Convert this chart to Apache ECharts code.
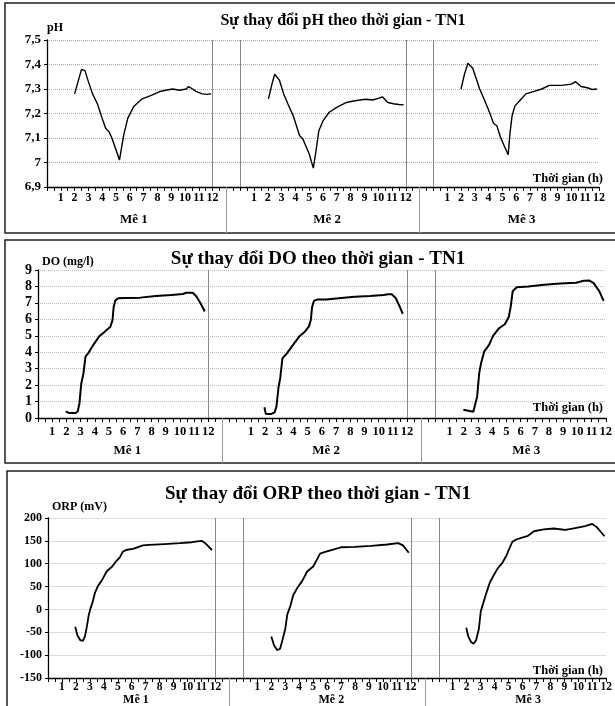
<!DOCTYPE html>
<html>
<head>
<meta charset="utf-8">
<script src="https://cdn.jsdelivr.net/npm/echarts@6/dist/echarts.min.js"></script>
<style>html,body{margin:0;padding:0;background:#fff;}#chart{width:615px;height:706px;}</style>
</head>
<body>
<div id="chart"></div>
<script>
// tick labels / categories
var hourLabels = ['1','2','3','4','5','6','7','8','9','10','11','12'];
var batchNames = ['Mê 1', 'Mê 2', 'Mê 3'];
var batchOffsets = [0, 14, 28]; // each batch (mẻ) sits on its own stretch of the shared time axis

// [hour, value]
var phMe1 = [[2.0,7.28],[2.25,7.33],[2.5,7.38],[2.75,7.375],[3.0,7.33],[3.3,7.28],[3.65,7.24],[4.0,7.18],[4.25,7.14],[4.5,7.125],[4.7,7.1],[4.95,7.06],[5.25,7.01],[5.4,7.06],[5.55,7.11],[5.85,7.18],[6.3,7.23],[6.9,7.26],[7.6,7.275],[8.2,7.29],[8.6,7.295],[9.1,7.3],[9.6,7.295],[10.1,7.3],[10.25,7.31],[10.4,7.305],[10.8,7.29],[11.25,7.28],[11.6,7.278],[11.9,7.28]];
var phMe2 = [[2.05,7.26],[2.3,7.32],[2.5,7.36],[2.85,7.335],[3.15,7.28],[3.45,7.24],[3.85,7.19],[4.3,7.11],[4.55,7.095],[5.0,7.035],[5.3,6.977],[5.5,7.05],[5.7,7.13],[6.0,7.17],[6.45,7.205],[7.0,7.225],[7.7,7.245],[8.3,7.252],[9.1,7.258],[9.6,7.255],[10.0,7.262],[10.3,7.268],[10.7,7.245],[11.1,7.24],[11.5,7.237],[11.85,7.235]];
var phMe3 = [[2.0,7.30],[2.25,7.36],[2.5,7.405],[2.85,7.385],[3.15,7.335],[3.35,7.30],[3.7,7.255],[4.1,7.20],[4.35,7.16],[4.6,7.15],[4.85,7.105],[5.15,7.065],[5.42,7.032],[5.55,7.12],[5.7,7.19],[5.9,7.23],[6.3,7.255],[6.7,7.28],[7.3,7.29],[7.85,7.30],[8.4,7.315],[9.3,7.315],[10.0,7.32],[10.3,7.33],[10.7,7.31],[11.15,7.305],[11.5,7.298],[11.85,7.30]];

var doMe1 = [[1.95,0.4],[2.2,0.3],[2.65,0.3],[2.8,0.4],[2.92,0.9],[3.05,2.1],[3.2,2.7],[3.35,3.75],[3.55,3.95],[3.9,4.45],[4.3,4.95],[4.7,5.25],[5.1,5.55],[5.25,5.95],[5.33,6.75],[5.45,7.15],[5.65,7.28],[6.1,7.3],[7.2,7.32],[8.3,7.42],[9.4,7.48],[10.2,7.54],[10.45,7.62],[10.9,7.62],[11.15,7.4],[11.45,6.98],[11.75,6.48]];
var doMe2 = [[1.95,0.65],[2.05,0.25],[2.45,0.25],[2.67,0.34],[2.8,0.7],[2.95,1.9],[3.07,2.45],[3.22,3.62],[3.55,3.95],[3.97,4.45],[4.4,4.95],[4.8,5.25],[5.08,5.55],[5.22,5.95],[5.31,6.75],[5.44,7.12],[5.65,7.2],[6.3,7.2],[7.2,7.28],[8.3,7.37],[9.4,7.42],[10.35,7.48],[10.65,7.53],[10.92,7.52],[11.2,7.3],[11.47,6.8],[11.7,6.33]];
var doMe3 = [[1.97,0.5],[2.1,0.38],[2.67,0.38],[2.81,0.5],[2.94,1.3],[3.08,2.7],[3.22,3.35],[3.44,4.05],[3.78,4.45],[4.06,5.0],[4.47,5.45],[4.89,5.7],[5.17,6.15],[5.31,6.8],[5.44,7.7],[5.72,7.95],[6.55,8.0],[7.65,8.1],[8.8,8.18],[9.9,8.23],[10.45,8.35],[10.85,8.36],[11.15,8.2],[11.55,7.7],[11.85,7.12]];

var orpMe1 = [[1.95,-38],[2.1,-56],[2.3,-67],[2.5,-69],[2.65,-59],[2.8,-35],[2.92,-12],[3.06,4],[3.2,16],[3.35,35],[3.57,51],[3.85,63],[4.2,83],[4.6,94],[4.87,105],[5.15,114],[5.35,126],[5.6,130],[6.15,133],[6.8,140],[7.25,141],[8.35,143],[9.45,145],[10.3,147],[11.0,150],[11.3,144],[11.75,130]];
var orpMe2 = [[2.0,-59],[2.2,-79],[2.43,-89],[2.63,-86],[2.8,-67],[3.0,-43],[3.14,-12],[3.37,8],[3.57,31],[3.86,47],[4.23,63],[4.57,83],[5.0,94],[5.29,110],[5.49,122],[5.86,126],[6.43,131],[7.0,136],[8.0,137],[9.15,139],[10.3,142],[11.1,145],[11.43,140],[11.85,124]];
var orpMe3 = [[1.97,-40],[2.11,-59],[2.31,-71],[2.5,-75],[2.68,-67],[2.87,-43],[3.01,-4],[3.21,16],[3.44,39],[3.66,59],[3.94,75],[4.23,90],[4.56,102],[4.85,118],[5.07,134],[5.27,148],[5.55,153],[5.97,157],[6.39,161],[6.82,171],[7.52,175],[8.23,177],[9.07,174],[9.77,178],[10.48,182],[11.0,187],[11.32,180],[11.88,160]];

var serif = "'Liberation Serif', 'Times New Roman', serif";

function shift(data, k) {
  return data.map(function (p) { return [p[0] + batchOffsets[k], p[1]]; });
}
function hourLabel(v) {
  for (var k = batchOffsets.length - 1; k >= 0; k--) {
    var h = v - batchOffsets[k];
    if (h >= 0 && h <= 12) {
      if (h >= 1 && Math.abs(h - Math.round(h)) < 1e-6) return hourLabels[Math.round(h) - 1];
      return '';
    }
  }
  return '';
}

var panels = [
  { title: 'Sự thay đổi pH theo thời gian - TN1', titleX: 338, titleY: 8, titleSize: 16,
    name: 'pH', nameGap: 12, nameSize: 12, nameShift: 0,
    grid: { left: 47, top: 40, width: 552, height: 147 },
    min: 6.9, max: 7.5, interval: 0.1, ySize: 13, xSize: 12, xMargin: 5, lineW: 1.4,
    fmt: function (v) { return String(Math.round(v * 10) / 10).replace('.', ','); },
    split: { type: 'dotted', color: '#aaa' },
    series: [phMe1, phMe2, phMe3], walls: [12, 14, 26, 28], sepLen: 46, meMargin: 26, meSize: 13,
    timeTop: 167, box: [5, 3, 640, 230] },
  { title: 'Sự thay đổi DO theo thời gian - TN1', titleX: 313, titleY: 245, titleSize: 19,
    name: 'DO (mg/l)', nameGap: 8, nameSize: 12, nameShift: 4,
    grid: { left: 38, top: 270, width: 569, height: 148 },
    min: 0, max: 9, interval: 1, ySize: 14, xSize: 12.5, xMargin: 7, lineW: 2,
    fmt: null,
    split: { type: 'dotted', color: '#bbb' },
    series: [doMe1, doMe2, doMe3], walls: [12, 26, 28], sepLen: 45, meMargin: 26, meSize: 13,
    timeTop: 396, box: [5, 240, 640, 223] },
  { title: 'Sự thay đổi ORP theo thời gian - TN1', titleX: 313, titleY: 480, titleSize: 19,
    name: 'ORP (mV)', nameGap: 11, nameSize: 12, nameShift: 4,
    grid: { left: 48, top: 518, width: 559, height: 161 },
    min: -150, max: 200, interval: 50, ySize: 12, xSize: 11.5, xMargin: 3, lineW: 1.8,
    fmt: null,
    split: { type: 'solid', color: '#ddd' },
    series: [orpMe1, orpMe2, orpMe3], walls: [12, 14, 26, 28], sepLen: 30, meMargin: 16, meSize: 12,
    timeTop: 659, box: [7, 471, 640, 260] }
];

var option = {
  animation: false,
  backgroundColor: '#fff',
  title: [], grid: [], xAxis: [], yAxis: [], series: [], graphic: []
};

panels.forEach(function (p, i) {
  option.graphic.push({
    type: 'rect', silent: true, z: 0,
    shape: { x: p.box[0], y: p.box[1], width: p.box[2], height: p.box[3] },
    style: { fill: 'none', stroke: '#222', lineWidth: 1.5 }
  });
  option.title.push({
    text: p.title, left: p.titleX, top: p.titleY, textAlign: 'center',
    textStyle: { fontFamily: serif, fontWeight: 'bold', fontSize: p.titleSize, color: '#000' }
  });
  option.title.push({
    text: 'Thời gian (h)', right: 7, top: p.timeTop,
    textStyle: { fontFamily: serif, fontWeight: 'bold', fontSize: 12.5, color: '#000' }
  });
  option.grid.push(p.grid);
  option.xAxis.push({
    type: 'value', gridIndex: i, min: 0, max: 40, interval: 0.5,
    axisLine: { onZero: false, lineStyle: { color: '#000', width: 1.3 } },
    axisTick: { length: 4, lineStyle: { color: '#000' } },
    axisLabel: { formatter: hourLabel, margin: p.xMargin, color: '#000', fontFamily: serif,
      fontWeight: 'bold', fontSize: p.xSize, showMinLabel: true, showMaxLabel: true },
    splitLine: { show: false }
  });
  option.xAxis.push({
    type: 'value', gridIndex: i, min: 0, max: 40, position: 'bottom', offset: 0,
    axisLine: { show: false, onZero: false },
    axisTick: { show: true, customValues: [13, 27], length: p.sepLen, lineStyle: { color: '#999', width: 1 } },
    axisLabel: { customValues: [6.3, 20.3, 34.4], margin: p.meMargin, color: '#000',
      fontFamily: serif, fontWeight: 'bold', fontSize: p.meSize,
      formatter: function (v) { return batchNames[v < 13 ? 0 : (v < 27 ? 1 : 2)]; } },
    splitLine: { show: false }
  });
  option.yAxis.push({
    type: 'value', gridIndex: i, min: p.min, max: p.max, interval: p.interval,
    name: p.name, nameLocation: 'end', nameGap: p.nameGap,
    nameTextStyle: { fontFamily: serif, fontWeight: 'bold', fontSize: p.nameSize, color: '#000',
      align: 'left', verticalAlign: 'middle', padding: [0, 0, 0, p.nameShift] },
    axisLine: { show: true, onZero: false, lineStyle: { color: '#000', width: 1.3 } },
    axisTick: { show: true, length: 3, lineStyle: { color: '#000' } },
    axisLabel: { color: '#000', fontFamily: serif, fontWeight: 'bold', fontSize: p.ySize, margin: 6,
      formatter: p.fmt || undefined },
    splitLine: { show: true, lineStyle: { type: p.split.type, color: p.split.color, width: 1 } }
  });
  p.series.forEach(function (d, k) {
    var s = {
      type: 'line', xAxisIndex: i * 2, yAxisIndex: i, data: shift(d, k),
      showSymbol: false, symbol: 'none', smooth: false,
      lineStyle: { color: '#000', width: p.lineW }
    };
    if (k === 0) {
      s.markLine = {
        silent: true, symbol: 'none', label: { show: false },
        lineStyle: { color: '#888', width: 1, type: 'solid' },
        data: p.walls.map(function (w) { return { xAxis: w }; })
      };
    }
    option.series.push(s);
  });
});

var chart = echarts.init(document.getElementById('chart'), null, { renderer: 'canvas' });
chart.setOption(option);
</script>
</body>
</html>
